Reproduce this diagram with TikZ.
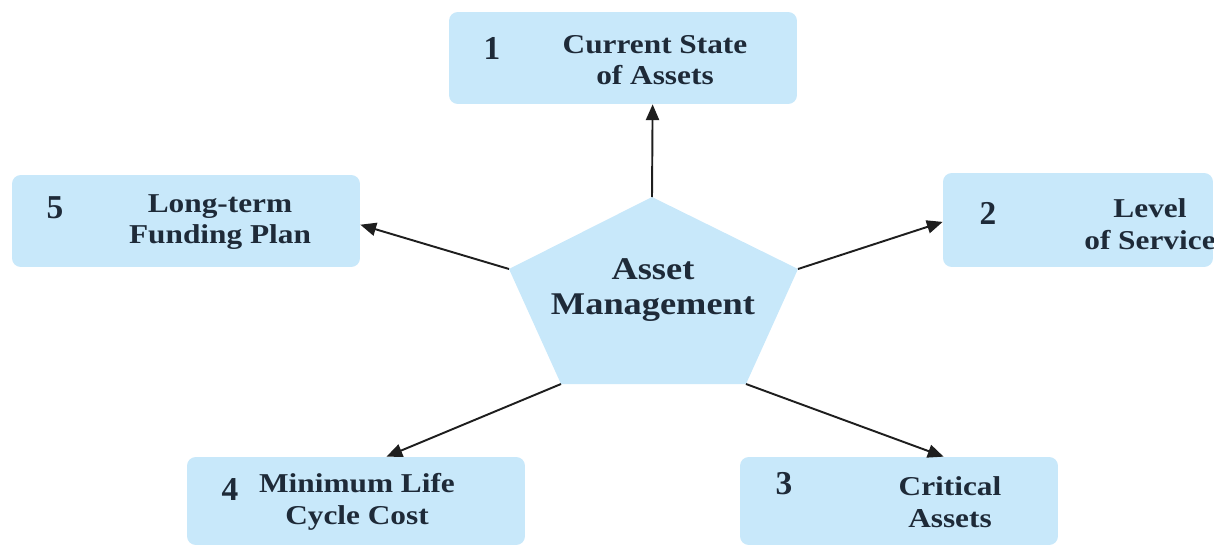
\documentclass[tikz,border=0pt]{standalone}
\usepackage{fontspec}
\setmainfont{Liberation Serif}[FakeStretch=1.15]
\newfontfamily\numfont{Liberation Serif}
\usetikzlibrary{arrows.meta,calc}
\definecolor{boxblue}{RGB}{200,232,250}
\definecolor{ink}{RGB}{30,42,56}
\definecolor{arrowink}{RGB}{30,30,30}
\begin{document}
\begin{tikzpicture}[x=0.02cm,y=-0.02cm,
  panel/.style={fill=boxblue, rounded corners=5pt, inner sep=0pt},
  caption/.style={text=ink, font=\bfseries\fontsize{15.5}{18}\selectfont, align=center, inner sep=0pt},
  number/.style={text=ink, font=\numfont\bfseries\fontsize{19}{20}\selectfont, inner sep=0pt},
  link/.style={draw=arrowink, line width=1.1pt, -{Triangle[length=9pt,width=7.5pt]}}]
  \useasboundingbox (0,0) rectangle (1225,548);

  % outer boxes
  \node[panel, minimum width=6.96cm, minimum height=1.84cm] (b1) at (623,58) {};
  \node[panel, minimum width=5.40cm, minimum height=1.88cm] (b2) at (1078,220) {};
  \node[panel, minimum width=6.96cm, minimum height=1.84cm] (b5) at (186,221) {};
  \node[panel, minimum width=6.76cm, minimum height=1.76cm] (b4) at (356,501) {};
  \node[panel, minimum width=6.36cm, minimum height=1.76cm] (b3) at (899,501) {};

  % central pentagon
  \coordinate (p1) at (652,197);
  \coordinate (p2) at (798,269);
  \coordinate (p3) at (746,384);
  \coordinate (p4) at (561,384);
  \coordinate (p5) at (509,269);
  \fill[boxblue] (p1) -- (p2) -- (p3) -- (p4) -- (p5) -- cycle;
  \node[caption, font=\bfseries\fontsize{18}{20}\selectfont] (core) at (653,290) {Asset\\Management};

  % box labels
  \node[number] (n1) at (492,48) {1};
  \node[caption] (t1) at (655,60) {Current State\\of Assets};
  \node[number] (n2) at (988,213) {2};
  \begin{scope}
    \clip[rounded corners=5pt] (b2.south west) rectangle (b2.north east);
    \node[caption] (t2) at (1150,224) {Level\\of Service};
  \end{scope}
  \node[number] (n5) at (55,208) {5};
  \node[caption] (t5) at (220,222) {Long-term\\Funding Plan};
  \node[number] (n4) at (230,490) {4};
  \node[caption] (t4) at (357,502) {Minimum Life\\Cycle Cost};
  \node[number] (n3) at (784,484) {3};
  \node[caption] (t3) at (950,502) {Critical\\Assets};

  % connectors from the pentagon corners to the boxes
  \draw[link] (p1) -- ($(b1.south west)!0.585!(b1.south east)$);
  \draw[link] (p2) -- ($(b2.north west)!0.52!(b2.south west)$);
  \draw[link] (p5) -- ($(b5.north east)!0.54!(b5.south east)$);
  \draw[link] (p4) -- ($(b4.north west)!0.59!(b4.north east)$);
  \draw[link] (p3) -- ($(b3.north west)!0.64!(b3.north east)$);
\end{tikzpicture}
\end{document}
